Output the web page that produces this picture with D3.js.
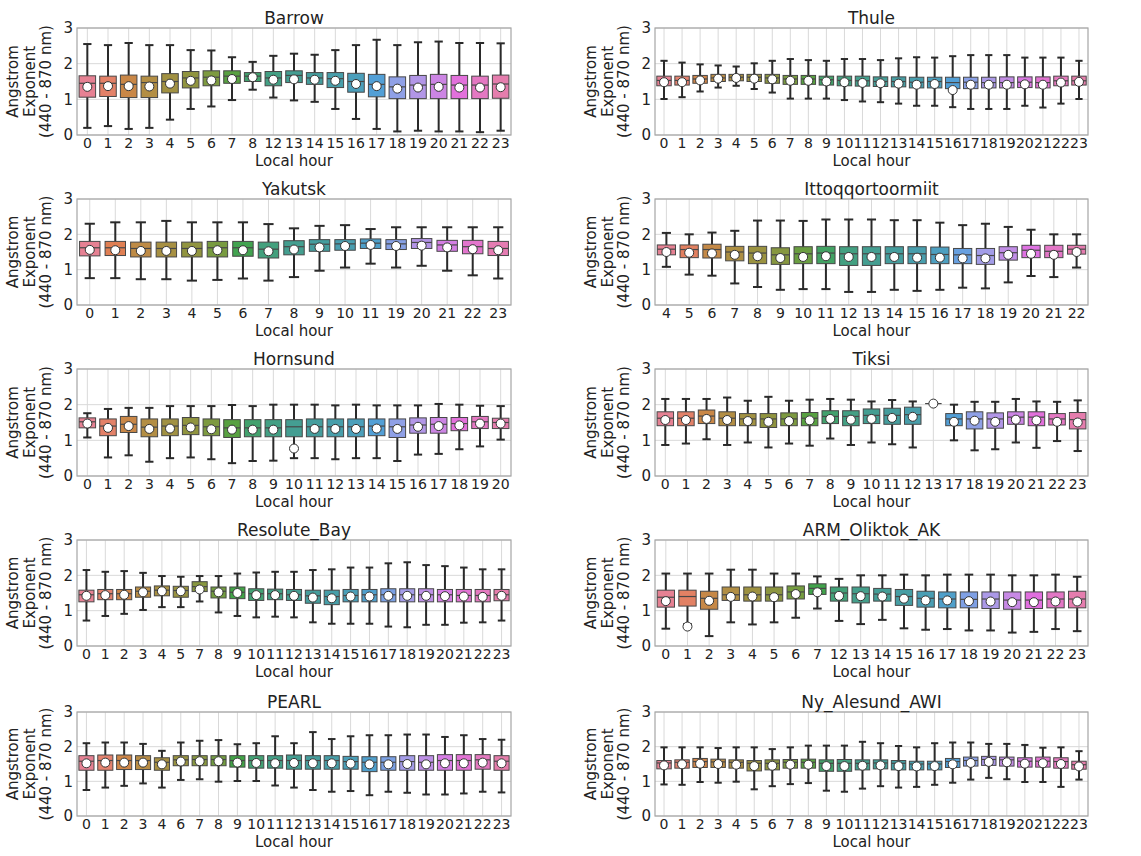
<!DOCTYPE html>
<html>
<head>
<meta charset="utf-8">
<script src="https://cdn.jsdelivr.net/npm/d3@7"></script>
<style>
  body { margin: 0; background: #fff; }
  svg { display: block; font-family: "DejaVu Sans", sans-serif; }
</style>
</head>
<body>
<div id="chart"></div>
<script>
// each row: [lower whisker, q1, median, q3, upper whisker, mean]
const barrowHours = [0,1,2,3,4,5,6,7,8,12,13,14,15,16,17,18,19,20,21,22,23];
const barrowBox = [
  [0.20,1.06,1.45,1.66,2.55,1.35],[0.25,1.08,1.45,1.65,2.52,1.37],[0.17,1.05,1.42,1.68,2.58,1.37],
  [0.20,1.05,1.47,1.65,2.52,1.36],[0.43,1.18,1.50,1.72,2.52,1.44],[0.73,1.32,1.60,1.78,2.38,1.52],
  [0.80,1.38,1.62,1.80,2.37,1.53],[0.98,1.45,1.65,1.80,2.18,1.57],[1.27,1.50,1.65,1.75,2.05,1.62],
  [1.05,1.38,1.60,1.78,2.22,1.55],[0.97,1.47,1.67,1.80,2.28,1.56],[0.93,1.42,1.60,1.75,2.25,1.55],
  [0.73,1.33,1.58,1.75,2.38,1.52],[0.45,1.20,1.50,1.73,2.52,1.43],[0.17,1.07,1.42,1.70,2.67,1.37],
  [0.10,1.02,1.35,1.63,2.52,1.30],[0.12,1.02,1.40,1.67,2.60,1.33],[0.10,1.02,1.42,1.70,2.62,1.35],
  [0.10,1.02,1.40,1.67,2.58,1.33],[0.08,1.02,1.40,1.65,2.58,1.33],[0.12,1.03,1.43,1.68,2.57,1.34]
];

const thuleHours = d3.range(0, 24);
const thuleBox = [
  [1.01,1.38,1.53,1.65,2.08,1.48],[1.06,1.40,1.53,1.65,2.03,1.48],[1.22,1.45,1.57,1.67,1.98,1.53],
  [1.33,1.50,1.60,1.70,1.95,1.58],[1.38,1.52,1.62,1.70,1.92,1.60],[1.29,1.50,1.62,1.70,2.01,1.58],
  [1.19,1.45,1.60,1.70,2.08,1.56],[1.02,1.42,1.57,1.67,2.13,1.52],[1.02,1.42,1.57,1.67,2.10,1.52],
  [1.02,1.40,1.55,1.65,2.08,1.50],[0.98,1.38,1.53,1.65,2.13,1.48],[0.94,1.37,1.52,1.65,2.13,1.46],
  [0.92,1.36,1.50,1.63,2.10,1.45],[0.88,1.35,1.50,1.63,2.15,1.44],[0.82,1.32,1.48,1.62,2.18,1.41],
  [0.82,1.32,1.50,1.62,2.17,1.43],[0.78,1.30,1.47,1.62,2.21,1.26],[0.73,1.30,1.48,1.62,2.24,1.41],
  [0.73,1.32,1.47,1.62,2.24,1.41],[0.73,1.32,1.47,1.63,2.24,1.41],[0.82,1.33,1.48,1.63,2.17,1.42],
  [0.77,1.32,1.47,1.63,2.17,1.41],[0.88,1.38,1.52,1.65,2.17,1.47],[1.01,1.40,1.52,1.65,2.08,1.49]
];

const yakutskHours = [0,1,2,3,4,5,6,7,8,9,10,11,19,20,21,22,23];
const yakutskBox = [
  [0.76,1.39,1.62,1.80,2.30,1.56],[0.76,1.40,1.62,1.80,2.34,1.55],[0.73,1.36,1.60,1.78,2.34,1.53],
  [0.73,1.36,1.60,1.78,2.38,1.53],[0.69,1.36,1.60,1.78,2.34,1.53],[0.71,1.36,1.62,1.80,2.34,1.55],
  [0.75,1.38,1.62,1.80,2.34,1.55],[0.69,1.33,1.58,1.78,2.29,1.52],[0.79,1.42,1.65,1.82,2.17,1.57],
  [0.97,1.52,1.72,1.85,2.24,1.63],[1.06,1.55,1.73,1.85,2.26,1.67],[1.17,1.60,1.75,1.87,2.15,1.70],
  [1.06,1.57,1.73,1.85,2.20,1.67],[1.11,1.60,1.77,1.88,2.20,1.68],[0.97,1.52,1.70,1.83,2.20,1.63],
  [0.84,1.45,1.65,1.83,2.20,1.58],[0.75,1.40,1.60,1.80,2.20,1.55]
];

const ittoqHours = d3.range(4, 23);
const ittoqBox = [
  [1.08,1.42,1.58,1.70,2.04,1.50],[0.86,1.34,1.57,1.70,2.00,1.48],[0.83,1.33,1.57,1.72,2.05,1.46],
  [0.61,1.25,1.50,1.66,2.10,1.42],[0.51,1.17,1.47,1.66,2.39,1.38],[0.43,1.15,1.42,1.62,2.39,1.33],
  [0.45,1.17,1.45,1.65,2.38,1.36],[0.45,1.17,1.47,1.66,2.42,1.38],[0.37,1.12,1.45,1.65,2.42,1.36],
  [0.37,1.12,1.45,1.65,2.42,1.36],[0.43,1.17,1.45,1.65,2.40,1.36],[0.40,1.17,1.45,1.65,2.40,1.34],
  [0.43,1.17,1.43,1.64,2.33,1.34],[0.49,1.17,1.42,1.60,2.26,1.32],[0.47,1.15,1.40,1.60,2.30,1.32],
  [0.64,1.27,1.48,1.65,2.21,1.42],[0.82,1.34,1.55,1.69,2.13,1.45],[0.79,1.34,1.52,1.69,2.00,1.42],
  [1.06,1.44,1.58,1.69,2.00,1.50]
];

const hornsundHours = d3.range(0, 21);
const hornsundBox = [
  [1.08,1.35,1.52,1.63,1.76,1.47],[0.52,1.13,1.40,1.60,1.88,1.35],[0.58,1.22,1.45,1.67,1.91,1.40],
  [0.40,1.10,1.37,1.60,1.91,1.32],[0.50,1.13,1.40,1.60,1.96,1.33],[0.52,1.16,1.42,1.64,1.96,1.36],
  [0.47,1.13,1.38,1.60,1.96,1.31],[0.36,1.08,1.35,1.58,1.99,1.30],[0.42,1.10,1.35,1.58,1.96,1.30],
  [0.43,1.10,1.35,1.58,2.00,1.30],[0.50,1.10,1.38,1.58,2.00,0.77],[0.50,1.10,1.38,1.60,2.00,1.32],
  [0.47,1.10,1.38,1.60,1.98,1.32],[0.50,1.10,1.38,1.60,2.00,1.32],[0.50,1.13,1.40,1.60,1.98,1.33],
  [0.42,1.08,1.38,1.60,1.98,1.32],[0.60,1.20,1.43,1.63,1.98,1.38],[0.62,1.20,1.45,1.64,2.02,1.40],
  [0.75,1.27,1.47,1.64,2.00,1.42],[0.83,1.33,1.52,1.67,1.97,1.47],[1.02,1.33,1.50,1.62,1.96,1.47]
];

const tiksiHours = [0,1,2,3,4,5,6,7,8,9,10,11,12,13,17,18,19,20,21,22,23];
const tiksiBox = [
  [0.87,1.41,1.62,1.80,2.16,1.57],[0.91,1.41,1.62,1.80,2.16,1.57],[1.03,1.47,1.68,1.85,2.16,1.60],
  [0.87,1.41,1.62,1.80,2.20,1.57],[0.94,1.41,1.60,1.75,2.11,1.54],[0.80,1.36,1.60,1.75,2.22,1.52],
  [0.91,1.41,1.60,1.77,2.11,1.54],[0.85,1.41,1.62,1.78,2.14,1.56],[1.05,1.47,1.67,1.83,2.16,1.60],
  [0.87,1.41,1.67,1.83,2.14,1.58],[0.94,1.47,1.70,1.88,2.09,1.60],[0.89,1.45,1.70,1.90,2.13,1.63],
  [0.80,1.45,1.72,1.93,2.09,1.66],[2.03,2.03,2.03,2.03,2.03,2.03],[1.00,1.41,1.60,1.75,2.00,1.52],
  [0.72,1.32,1.60,1.80,2.08,1.55],[0.75,1.34,1.60,1.77,2.08,1.52],[0.94,1.45,1.65,1.80,2.16,1.58],
  [0.79,1.41,1.65,1.80,2.09,1.56],[0.98,1.43,1.60,1.75,2.08,1.52],[0.70,1.32,1.58,1.78,2.12,1.50]
];

const resoluteHours = [0,1,2,3,4,5,7,8,9,10,11,12,13,14,15,16,17,18,19,20,21,22,23];
const resoluteBox = [
  [0.72,1.25,1.45,1.58,2.15,1.42],[0.85,1.31,1.48,1.60,2.10,1.44],[0.91,1.31,1.48,1.60,2.12,1.45],
  [1.02,1.38,1.55,1.67,2.07,1.52],[1.10,1.42,1.58,1.70,1.98,1.55],[1.10,1.38,1.57,1.69,1.96,1.55],
  [1.26,1.54,1.68,1.82,1.98,1.60],[0.95,1.36,1.55,1.67,1.98,1.52],[0.85,1.34,1.52,1.67,2.05,1.50],
  [0.81,1.29,1.48,1.62,2.08,1.44],[0.83,1.31,1.48,1.61,2.10,1.44],[0.81,1.29,1.45,1.60,2.10,1.42],
  [0.67,1.21,1.42,1.58,2.15,1.37],[0.63,1.17,1.40,1.58,2.17,1.35],[0.63,1.25,1.43,1.60,2.22,1.40],
  [0.63,1.25,1.45,1.60,2.22,1.40],[0.55,1.25,1.45,1.62,2.34,1.42],[0.53,1.25,1.45,1.62,2.37,1.42],
  [0.60,1.25,1.45,1.62,2.29,1.42],[0.60,1.25,1.45,1.60,2.26,1.41],[0.66,1.25,1.43,1.60,2.22,1.40],
  [0.67,1.25,1.43,1.60,2.17,1.39],[0.72,1.28,1.45,1.60,2.17,1.42]
];

const armHours = [0,1,2,3,4,5,6,7,12,13,14,15,16,17,18,19,20,21,22,23];
const armBox = [
  [0.49,1.10,1.38,1.58,2.05,1.27],[0.62,1.13,1.40,1.58,2.05,0.55],[0.28,1.04,1.35,1.55,2.05,1.28],
  [0.67,1.29,1.45,1.67,2.16,1.39],[0.61,1.27,1.45,1.67,2.16,1.40],[0.67,1.27,1.45,1.67,2.05,1.38],
  [0.80,1.33,1.53,1.70,2.05,1.47],[1.06,1.46,1.63,1.76,1.97,1.52],[0.71,1.27,1.50,1.67,1.90,1.42],
  [0.62,1.22,1.48,1.67,2.00,1.41],[0.74,1.27,1.47,1.63,2.00,1.40],[0.50,1.15,1.40,1.60,2.02,1.34],
  [0.46,1.10,1.35,1.55,2.00,1.29],[0.48,1.08,1.33,1.53,2.02,1.29],[0.44,1.08,1.32,1.53,2.02,1.27],
  [0.44,1.06,1.33,1.53,2.02,1.26],[0.38,1.04,1.30,1.53,2.00,1.24],[0.40,1.06,1.30,1.53,2.00,1.24],
  [0.48,1.08,1.33,1.53,2.02,1.26],[0.42,1.08,1.33,1.55,1.96,1.26]
];

const pearlHours = [0,1,2,3,4,6,7,8,9,10,11,12,13,14,15,16,17,18,19,20,21,22,23];
const pearlBox = [
  [0.75,1.32,1.58,1.74,2.10,1.52],[0.82,1.32,1.60,1.76,2.12,1.54],[0.87,1.34,1.60,1.76,2.12,1.54],
  [0.94,1.34,1.60,1.74,2.08,1.54],[0.82,1.32,1.55,1.68,1.88,1.49],[1.04,1.45,1.62,1.74,2.12,1.57],
  [1.06,1.45,1.63,1.74,2.17,1.58],[0.99,1.45,1.63,1.74,2.19,1.58],[1.01,1.41,1.60,1.74,2.07,1.54],
  [1.01,1.38,1.60,1.74,2.10,1.53],[0.88,1.38,1.60,1.74,2.30,1.52],[0.82,1.35,1.60,1.76,2.10,1.53],
  [0.75,1.35,1.60,1.74,2.42,1.52],[0.70,1.35,1.60,1.74,2.22,1.52],[0.72,1.35,1.57,1.72,2.30,1.51],
  [0.60,1.28,1.55,1.71,2.33,1.49],[0.70,1.32,1.55,1.71,2.33,1.49],[0.67,1.32,1.57,1.74,2.35,1.50],
  [0.62,1.32,1.55,1.74,2.35,1.49],[0.62,1.32,1.60,1.77,2.28,1.52],[0.65,1.32,1.60,1.77,2.33,1.52],
  [0.70,1.35,1.62,1.77,2.22,1.54],[0.68,1.32,1.58,1.74,2.20,1.52]
];

const nyHours = d3.range(0, 24);
const nyBox = [
  [0.91,1.36,1.53,1.60,1.98,1.46],[0.90,1.38,1.55,1.62,1.98,1.49],[0.98,1.40,1.57,1.66,1.98,1.51],
  [0.96,1.40,1.56,1.64,1.96,1.50],[0.99,1.38,1.55,1.62,1.98,1.48],[0.77,1.30,1.52,1.60,1.98,1.44],
  [0.86,1.33,1.52,1.62,1.93,1.45],[0.92,1.38,1.55,1.63,1.98,1.48],[0.95,1.38,1.55,1.64,2.03,1.48],
  [0.73,1.29,1.52,1.62,2.03,1.44],[0.70,1.29,1.52,1.63,2.03,1.44],[0.79,1.33,1.52,1.62,2.14,1.45],
  [0.86,1.36,1.53,1.62,2.10,1.46],[0.82,1.33,1.52,1.60,2.02,1.44],[0.84,1.33,1.50,1.58,1.98,1.43],
  [0.90,1.33,1.50,1.58,2.10,1.44],[0.96,1.40,1.57,1.66,2.12,1.49],[1.05,1.44,1.60,1.70,2.12,1.53],
  [1.10,1.46,1.63,1.72,2.08,1.56],[1.06,1.44,1.62,1.70,2.08,1.55],[0.98,1.41,1.58,1.68,2.05,1.51],
  [0.98,1.41,1.58,1.70,1.97,1.52],[0.84,1.38,1.57,1.68,1.98,1.50],[1.05,1.35,1.48,1.58,1.87,1.43]
];

const stationNames = ["Barrow","Thule","Yakutsk","Ittoqqortoormiit","Hornsund","Tiksi",
                      "Resolute_Bay","ARM_Oliktok_AK","PEARL","Ny_Alesund_AWI"];
const stationHours = [barrowHours, thuleHours, yakutskHours, ittoqHours, hornsundHours, tiksiHours,
                      resoluteHours, armHours, pearlHours, nyHours];
const stationBoxes = [barrowBox, thuleBox, yakutskBox, ittoqBox, hornsundBox, tiksiBox,
                      resoluteBox, armBox, pearlBox, nyBox];
const yTicks = [0, 1, 2, 3];

// ---- husl palette (seaborn style) ----
const M = [[3.240969941904521, -1.537383177570093, -0.498610760293],
           [-0.96924363628087, 1.87596750150772, 0.041555057407175],
           [0.055630079696993, -0.20397695888897, 1.056971514242878]];

function bounds(L) {
    const sub1 = Math.pow(L + 16, 3) / 1560896;
    const sub2 = sub1 > 0.0088564516 ? sub1 : L / 903.2962962;
    const out = [];
    for (const [m1, m2, m3] of M) {
        for (const t of [0, 1]) {
            const top1 = (284517 * m1 - 94839 * m3) * sub2;
            const top2 = (838422 * m3 + 769860 * m2 + 731718 * m1) * L * sub2 - 769860 * t * L;
            const bottom = (632260 * m3 - 126452 * m2) * sub2 + 126452 * t;
            out.push([top1 / bottom, top2 / bottom]);
        }
    }
    return out;
}

function maxChroma(L, H) {
    const hr = H / 360 * 2 * Math.PI;
    let min = Infinity;
    for (const [s, i] of bounds(L)) {
        const len = i / (Math.sin(hr) - s * Math.cos(hr));
        if (len >= 0) min = Math.min(min, len);
    }
    return min;
}

function husl(H, S, L) {
    const C = maxChroma(L, H) / 100 * S;
    const hr = H / 180 * Math.PI;
    const U = Math.cos(hr) * C, V = Math.sin(hr) * C;
    const varU = U / (13 * L) + 0.19783000664283;
    const varV = V / (13 * L) + 0.46831999493879;
    const Y = L <= 8 ? L / 903.2962962 : Math.pow((L + 16) / 116, 3);
    const X = 0 - (9 * Y * varU) / ((varU - 4) * varV - varU * varV);
    const Z = (9 * Y - 15 * varV * Y - varV * X) / (3 * varV);
    const rgb = M.map(r => {
        const c = r[0] * X + r[1] * Y + r[2] * Z;
        const v = c <= 0.0031308 ? 12.92 * c : 1.055 * Math.pow(c, 1 / 2.4) - 0.055;
        return Math.max(0, Math.min(1, v)) * 255;
    });
    return d3.rgb(rgb[0], rgb[1], rgb[2]);
}

function palette(n) {
    return d3.range(n).map(i => {
        const h = ((i / n + 0.01) % 1) * 359;
        const c = d3.hsl(husl(h, 0.9 * 99, 0.65 * 99));
        c.s *= 0.75; // boxplot desaturation
        return c.formatHex();
    });
}

// ---- layout ----
const width = 1141, height = 856;
const colX = [[77, 511], [655, 1088]];
const rowY = [[28, 135], [199, 305], [369, 476], [540, 646], [712, 816]];

const svg = d3.select("#chart").append("svg")
    .attr("width", width)
    .attr("height", height);

svg.append("rect").attr("width", width).attr("height", height).attr("fill", "#fff");

stationNames.forEach((name, i) => {
    const [x0, x1] = colX[i % 2];
    const [y0, y1] = rowY[Math.floor(i / 2)];
    const hours = stationHours[i];
    const boxes = stationBoxes[i];
    const colors = palette(hours.length);

    const x = d3.scaleBand().domain(hours).range([x0, x1])
        .paddingInner(0.2).paddingOuter(0.1);
    const y = d3.scaleLinear().domain([0, 3]).range([y1, y0]);
    const bw = x.bandwidth();
    const cx = h => x(h) + bw / 2;

    const g = svg.append("g");

    // grid
    g.selectAll(".vgrid").data(hours).join("line")
        .attr("x1", cx).attr("x2", cx)
        .attr("y1", y0).attr("y2", y1)
        .attr("stroke", "#d9d9d9").attr("stroke-width", 1);
    g.selectAll(".hgrid").data(yTicks).join("line")
        .attr("x1", x0).attr("x2", x1)
        .attr("y1", d => y(d)).attr("y2", d => y(d))
        .attr("stroke", "#d9d9d9").attr("stroke-width", 1);

    const rows = boxes.map((b, j) => ({ h: hours[j], b, c: colors[j] }));

    // whiskers
    g.selectAll(".whisk").data(rows).join("line")
        .attr("x1", d => cx(d.h)).attr("x2", d => cx(d.h))
        .attr("y1", d => y(d.b[0])).attr("y2", d => y(d.b[4]))
        .attr("stroke", "#2a2a2a").attr("stroke-width", 2);
    // caps
    [0, 4].forEach(k => {
        g.selectAll(".cap" + k).data(rows).join("line")
            .attr("x1", d => cx(d.h) - bw / 4).attr("x2", d => cx(d.h) + bw / 4)
            .attr("y1", d => y(d.b[k])).attr("y2", d => y(d.b[k]))
            .attr("stroke", "#2a2a2a").attr("stroke-width", 2);
    });
    // boxes
    g.selectAll(".box").data(rows).join("rect")
        .attr("x", d => x(d.h))
        .attr("width", bw)
        .attr("y", d => y(d.b[3]))
        .attr("height", d => Math.max(0, y(d.b[1]) - y(d.b[3])))
        .attr("fill", d => d.c)
        .attr("stroke", "#474747").attr("stroke-width", 1);
    // medians
    g.selectAll(".med").data(rows).join("line")
        .attr("x1", d => x(d.h)).attr("x2", d => x(d.h) + bw)
        .attr("y1", d => y(d.b[2])).attr("y2", d => y(d.b[2]))
        .attr("stroke", "#474747").attr("stroke-width", 1.2);
    // means
    g.selectAll(".mean").data(rows).join("circle")
        .attr("cx", d => cx(d.h)).attr("cy", d => y(d.b[5]))
        .attr("r", 4.5)
        .attr("fill", "#fff").attr("stroke", "#333").attr("stroke-width", 1);

    // frame
    g.append("rect")
        .attr("x", x0).attr("y", y0)
        .attr("width", x1 - x0).attr("height", y1 - y0)
        .attr("fill", "none").attr("stroke", "#a6a6a6").attr("stroke-width", 1.2);

    // axes
    const xAxis = g.append("g")
        .attr("transform", `translate(0,${y1})`)
        .call(d3.axisBottom(x).tickSize(0).tickPadding(3));
    xAxis.select(".domain").remove();
    xAxis.selectAll("text").attr("font-size", 14).attr("fill", "#222")
        .attr("font-family", "DejaVu Sans");

    const yAxis = g.append("g")
        .attr("transform", `translate(${x0},0)`)
        .call(d3.axisLeft(y).tickValues(yTicks).tickFormat(d3.format("d")).tickSize(0).tickPadding(4));
    yAxis.select(".domain").remove();
    yAxis.selectAll("text").attr("font-size", 15).attr("fill", "#222")
        .attr("font-family", "DejaVu Sans");

    // title
    g.append("text")
        .attr("x", (x0 + x1) / 2).attr("y", y0 - 4)
        .attr("text-anchor", "middle")
        .attr("font-size", 17).attr("fill", "#222")
        .text(name);

    // x label
    g.append("text")
        .attr("x", (x0 + x1) / 2).attr("y", y1 + 31)
        .attr("text-anchor", "middle")
        .attr("font-size", 15).attr("fill", "#222")
        .text("Local hour");

    // y label (three lines)
    const yl = ["Angstrom", "Exponent", "(440 - 870 nm)"];
    const ym = (y0 + y1) / 2;
    yl.forEach((t, k) => {
        const lx = x0 - 59 + k * 16.5;
        g.append("text")
            .attr("transform", `translate(${lx},${ym}) rotate(-90)`)
            .attr("text-anchor", "middle")
            .attr("font-size", 15).attr("fill", "#222")
            .text(t);
    });
});
</script>
</body>
</html>
